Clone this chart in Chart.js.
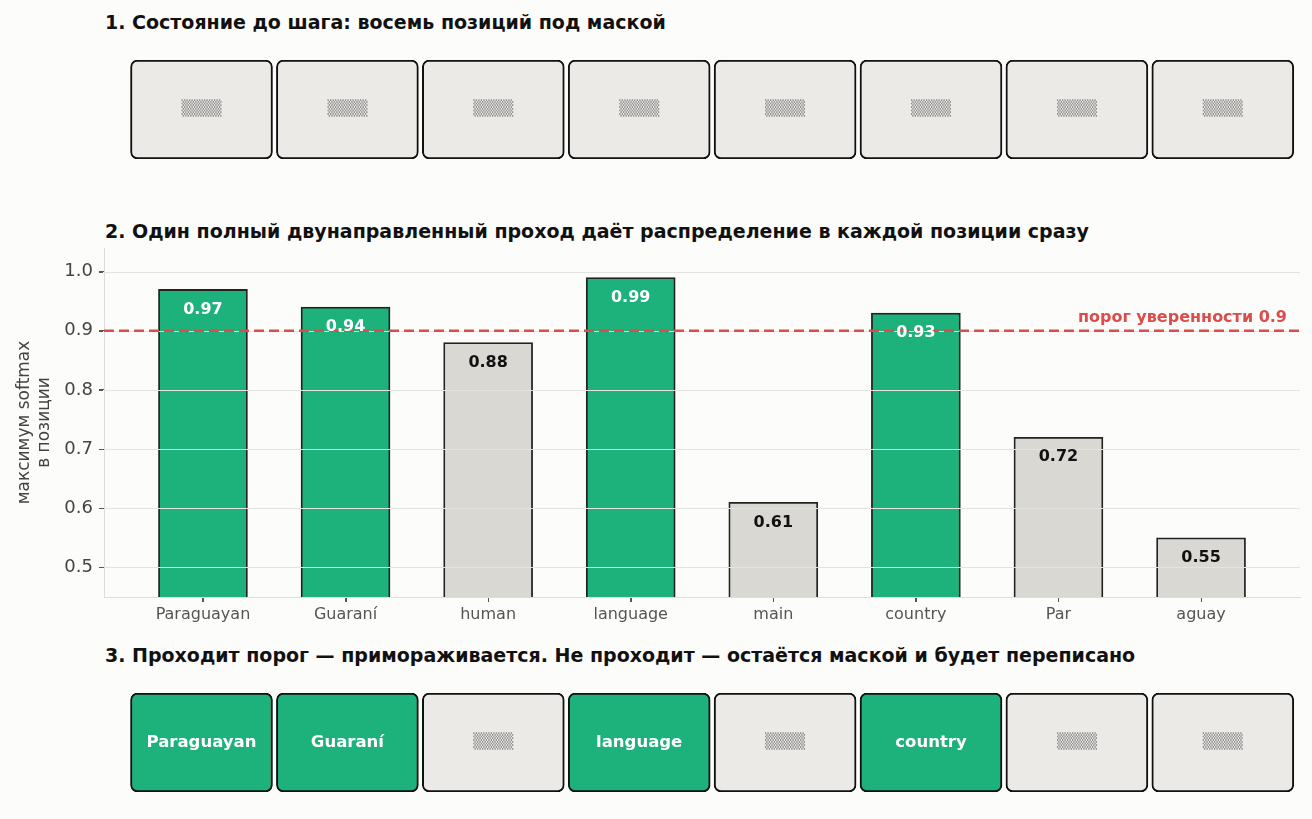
<!DOCTYPE html>
<html>
<head>
<meta charset="utf-8">
<script src="https://cdn.jsdelivr.net/npm/chart.js@4"></script>
<style>
  body { margin: 0; background: #fcfcfa; font-family: "DejaVu Sans", sans-serif; }
  #page { position: relative; width: 1312px; height: 819px; overflow: hidden; }
  canvas { position: absolute; left: 0; }
  .title { position: absolute; left: 105px; font-weight: bold; font-size: 19px; color: #111; white-space: nowrap; }
</style>
</head>
<body>
<div id="page">
  <div class="title" style="top:11px">1. Состояние до шага: восемь позиций под маской</div>
  <canvas id="before" width="1312" height="99" style="top:60px"></canvas>
  <div class="title" style="top:220px">2. Один полный двунаправленный проход даёт распределение в каждой позиции сразу</div>
  <canvas id="bars" width="1312" height="400" style="top:240px"></canvas>
  <div class="title" style="top:644px">3. Проходит порог — примораживается. Не проходит — остаётся маской и будет переписано</div>
  <canvas id="after" width="1312" height="99" style="top:693px"></canvas>
</div>
<script>
// tokens predicted at each masked position
const tokens = ["Paraguayan", "Guaraní", "human", "language", "main", "country", "Par", "aguay"];
// max softmax per position
const confidence = [0.97, 0.94, 0.88, 0.99, 0.61, 0.93, 0.72, 0.55];
const threshold = 0.9;
const yTicks = [0.5, 0.6, 0.7, 0.8, 0.9, 1.0];
const maskText = "▒▒▒▒";

const GREEN = "#1db17c";
const GREY_BAR = "#d9d8d3";
const GREY_BOX = "#ebeae6";
const RED = "#dc4c4c";
const FONT = '"DejaVu Sans", sans-serif';

const passed = confidence.map(v => v >= threshold);

// box rows: boxes centred at 201.5 + 145.9*i on a 1312px wide canvas
const boxMin = -201.5 / 145.9;
const boxMax = (1312 - 201.5) / 145.9;

function drawMask(ctx, x, y) {
  ctx.save();
  ctx.font = "15px " + FONT;
  ctx.fillStyle = "#8f8f8f";
  ctx.textAlign = "center";
  ctx.textBaseline = "middle";
  const w = ctx.measureText(maskText).width;
  ctx.translate(x, y);
  ctx.scale(40 / w, 1);
  ctx.fillText(maskText, 0, 0);
  ctx.restore();
}

function boxRow(id, labels, fills) {
  new Chart(document.getElementById(id), {
    type: "bar",
    data: {
      datasets: [{
        data: labels.map((_, i) => ({ x: i, y: [0, 1] })),
        backgroundColor: fills,
        borderColor: "#111111",
        borderWidth: 2,
        borderSkipped: false,
        borderRadius: 7,
        barThickness: 142
      }]
    },
    options: {
      responsive: false,
      animation: false,
      layout: { padding: 0 },
      plugins: { legend: { display: false }, tooltip: { enabled: false } },
      scales: {
        x: { type: "linear", display: false, offset: false, min: boxMin, max: boxMax },
        y: { display: false, min: 0, max: 1 }
      }
    },
    plugins: [{
      id: "boxText",
      afterDatasetsDraw(chart) {
        const ctx = chart.ctx;
        ctx.save();
        ctx.textAlign = "center";
        ctx.textBaseline = "middle";
        chart.getDatasetMeta(0).data.forEach((el, i) => {
          const cy = (el.y + el.base) / 2;
          if (labels[i] === null) {
            drawMask(ctx, el.x, cy);
          } else {
            ctx.font = "bold 16.5px " + FONT;
            ctx.fillStyle = "#ffffff";
            ctx.fillText(labels[i], el.x, cy);
          }
        });
        ctx.restore();
      }
    }]
  });
}

boxRow("before", tokens.map(() => null), tokens.map(() => GREY_BOX));
boxRow("after", tokens.map((t, i) => passed[i] ? t : null), passed.map(p => p ? GREEN : GREY_BOX));

// bar chart overlay: grid over bars, threshold line, value labels, tick marks
const overlay = {
  id: "overlay",
  afterDatasetsDraw(chart) {
    const ctx = chart.ctx;
    const area = chart.chartArea;
    const y = chart.scales.y;
    ctx.save();
    ctx.strokeStyle = "#e3e3e1";
    ctx.lineWidth = 1;
    yTicks.forEach(v => {
      const py = Math.round(y.getPixelForValue(v)) + 0.5;
      ctx.beginPath();
      ctx.moveTo(area.left, py);
      ctx.lineTo(area.right, py);
      ctx.stroke();
    });

    const ty = y.getPixelForValue(threshold);
    ctx.strokeStyle = RED;
    ctx.lineWidth = 2.5;
    ctx.setLineDash([10, 5]);
    ctx.beginPath();
    ctx.moveTo(area.left, ty);
    ctx.lineTo(area.right, ty);
    ctx.stroke();
    ctx.setLineDash([]);

    ctx.font = "bold 16px " + FONT;
    ctx.fillStyle = RED;
    ctx.textAlign = "right";
    ctx.textBaseline = "middle";
    ctx.fillText("порог уверенности " + threshold, area.right - 13, ty - 13);

    ctx.textAlign = "center";
    chart.getDatasetMeta(0).data.forEach((el, i) => {
      ctx.fillStyle = passed[i] ? "#ffffff" : "#111111";
      ctx.fillText(confidence[i].toFixed(2), el.x, el.y + 20);
    });
    ctx.restore();
  },
  afterDraw(chart) {
    const ctx = chart.ctx;
    const area = chart.chartArea;
    const { x, y } = chart.scales;
    ctx.save();
    ctx.strokeStyle = "#555555";
    ctx.lineWidth = 1;
    tokens.forEach((_, i) => {
      const px = Math.round(x.getPixelForValue(i)) + 0.5;
      ctx.beginPath();
      ctx.moveTo(px, area.bottom + 1);
      ctx.lineTo(px, area.bottom + 5);
      ctx.stroke();
    });
    yTicks.forEach(v => {
      const py = Math.round(y.getPixelForValue(v)) + 0.5;
      ctx.beginPath();
      ctx.moveTo(area.left - 5, py);
      ctx.lineTo(area.left - 1, py);
      ctx.stroke();
    });
    ctx.restore();
  }
};

new Chart(document.getElementById("bars"), {
  type: "bar",
  data: {
    datasets: [{
      data: confidence.map((v, i) => ({ x: i, y: v })),
      backgroundColor: passed.map(p => p ? GREEN : GREY_BAR),
      borderColor: "#222222",
      borderWidth: 1.8,
      borderSkipped: false,
      barThickness: 89
    }]
  },
  options: {
    responsive: false,
    animation: false,
    layout: { padding: { top: 8, right: 12, left: 0, bottom: 0 } },
    plugins: { legend: { display: false }, tooltip: { enabled: false } },
    scales: {
      x: {
        type: "linear",
        offset: false,
        min: -0.694,
        max: 7.694,
        afterBuildTicks: s => { s.ticks = tokens.map((_, i) => ({ value: i })); },
        afterFit: s => { s.height = 43; s.paddingLeft = 0; s.paddingRight = 0; },
        grid: { drawOnChartArea: false, offset: false, color: "#555", tickLength: 5 },
        border: { color: "#dddddd", width: 1 },
        ticks: {
          callback: v => tokens[v],
          color: "#555",
          font: { family: FONT, size: 16 },
          padding: 3,
          maxRotation: 0,
          autoSkip: false
        }
      },
      y: {
        min: 0.45,
        max: 1.04,
        afterBuildTicks: s => { s.ticks = yTicks.map(v => ({ value: v })); },
        afterFit: s => { s.width = 104; s.paddingTop = 0; s.paddingBottom = 0; },
        grid: { drawOnChartArea: false, color: "#555", tickLength: 5 },
        border: { color: "#dddddd", width: 1 },
        ticks: {
          callback: v => v.toFixed(1),
          color: "#444",
          font: { family: FONT, size: 18 },
          padding: 6
        },
        title: {
          display: true,
          text: ["максимум softmax", "в позиции"],
          color: "#444",
          font: { family: FONT, size: 17 },
          padding: { top: 14, bottom: 0 }
        }
      }
    }
  },
  plugins: [overlay]
});
</script>
</body>
</html>
